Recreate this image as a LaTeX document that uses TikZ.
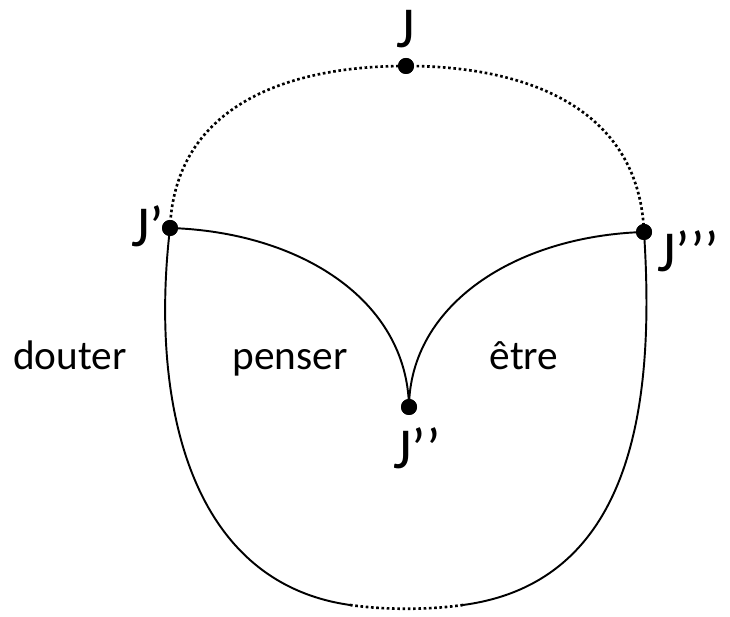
\documentclass[tikz,border=0pt]{standalone}
\usepackage{fontspec}
\setmainfont{Carlito}
\usepackage{tikz}

\begin{document}
\begin{tikzpicture}[x=0.02cm,y=-0.02cm,
  pt/.style={circle,fill=black,inner sep=0pt,minimum size=0.32cm},
  lbl/.style={font=\fontsize{33}{38}\selectfont,inner sep=0pt},
  word/.style={font=\fontsize{23.5}{28}\selectfont,inner sep=0pt},
  solidline/.style={line width=1.1pt},
  dotline/.style={line width=1.5pt,dash pattern=on 1.5pt off 1.5pt}]
  \useasboundingbox (0,0) rectangle (730,617);

  %points
  \node[pt] (J) at (406,66) {};
  \node[pt] (Jp) at (170,228) {};
  \node[pt] (Jpp) at (409,407) {};
  \node[pt] (Jppp) at (644,232) {};
  \coordinate (bl) at (350,605);
  \coordinate (br) at (463,605);

  %labels
  \node[lbl,anchor=base west] (lJ) at (396,48) {J};
  \node[lbl,anchor=base west] (lJp) at (131,247) {J’};
  \node[lbl,anchor=base west] (lJpp) at (393,469) {J’’};
  \node[lbl,anchor=base west] (lJppp) at (657,272) {J’’’};
  \node[word,anchor=base] (douter) at (70,370) {douter};
  \node[word,anchor=base] (penser) at (290,370) {penser};
  \node[word,anchor=base] (etre) at (524,370) {être};

  %dotted
  \draw[dotline] (Jp.center) .. controls (175,110) and (280,66) .. (J.center);
  \draw[dotline] (J.center) .. controls (530,66) and (639,110) .. (Jppp.center);
  \draw[dotline] (bl) .. controls (385,610) and (428,610) .. (br);

  %solid
  \draw[solidline] (Jp.center) .. controls (300,232) and (407,300) .. (Jpp.center);
  \draw[solidline] (Jpp.center) .. controls (410,305) and (515,236) .. (Jppp.center);
  \draw[solidline] (Jp.center) .. controls (150,400) and (188,582) .. (bl);
  \draw[solidline] (br) .. controls (635,582) and (655,400) .. (Jppp.center);

  \node[pt] at (J) {};
  \node[pt] at (Jp) {};
  \node[pt] at (Jpp) {};
  \node[pt] at (Jppp) {};
\end{tikzpicture}
\end{document}
